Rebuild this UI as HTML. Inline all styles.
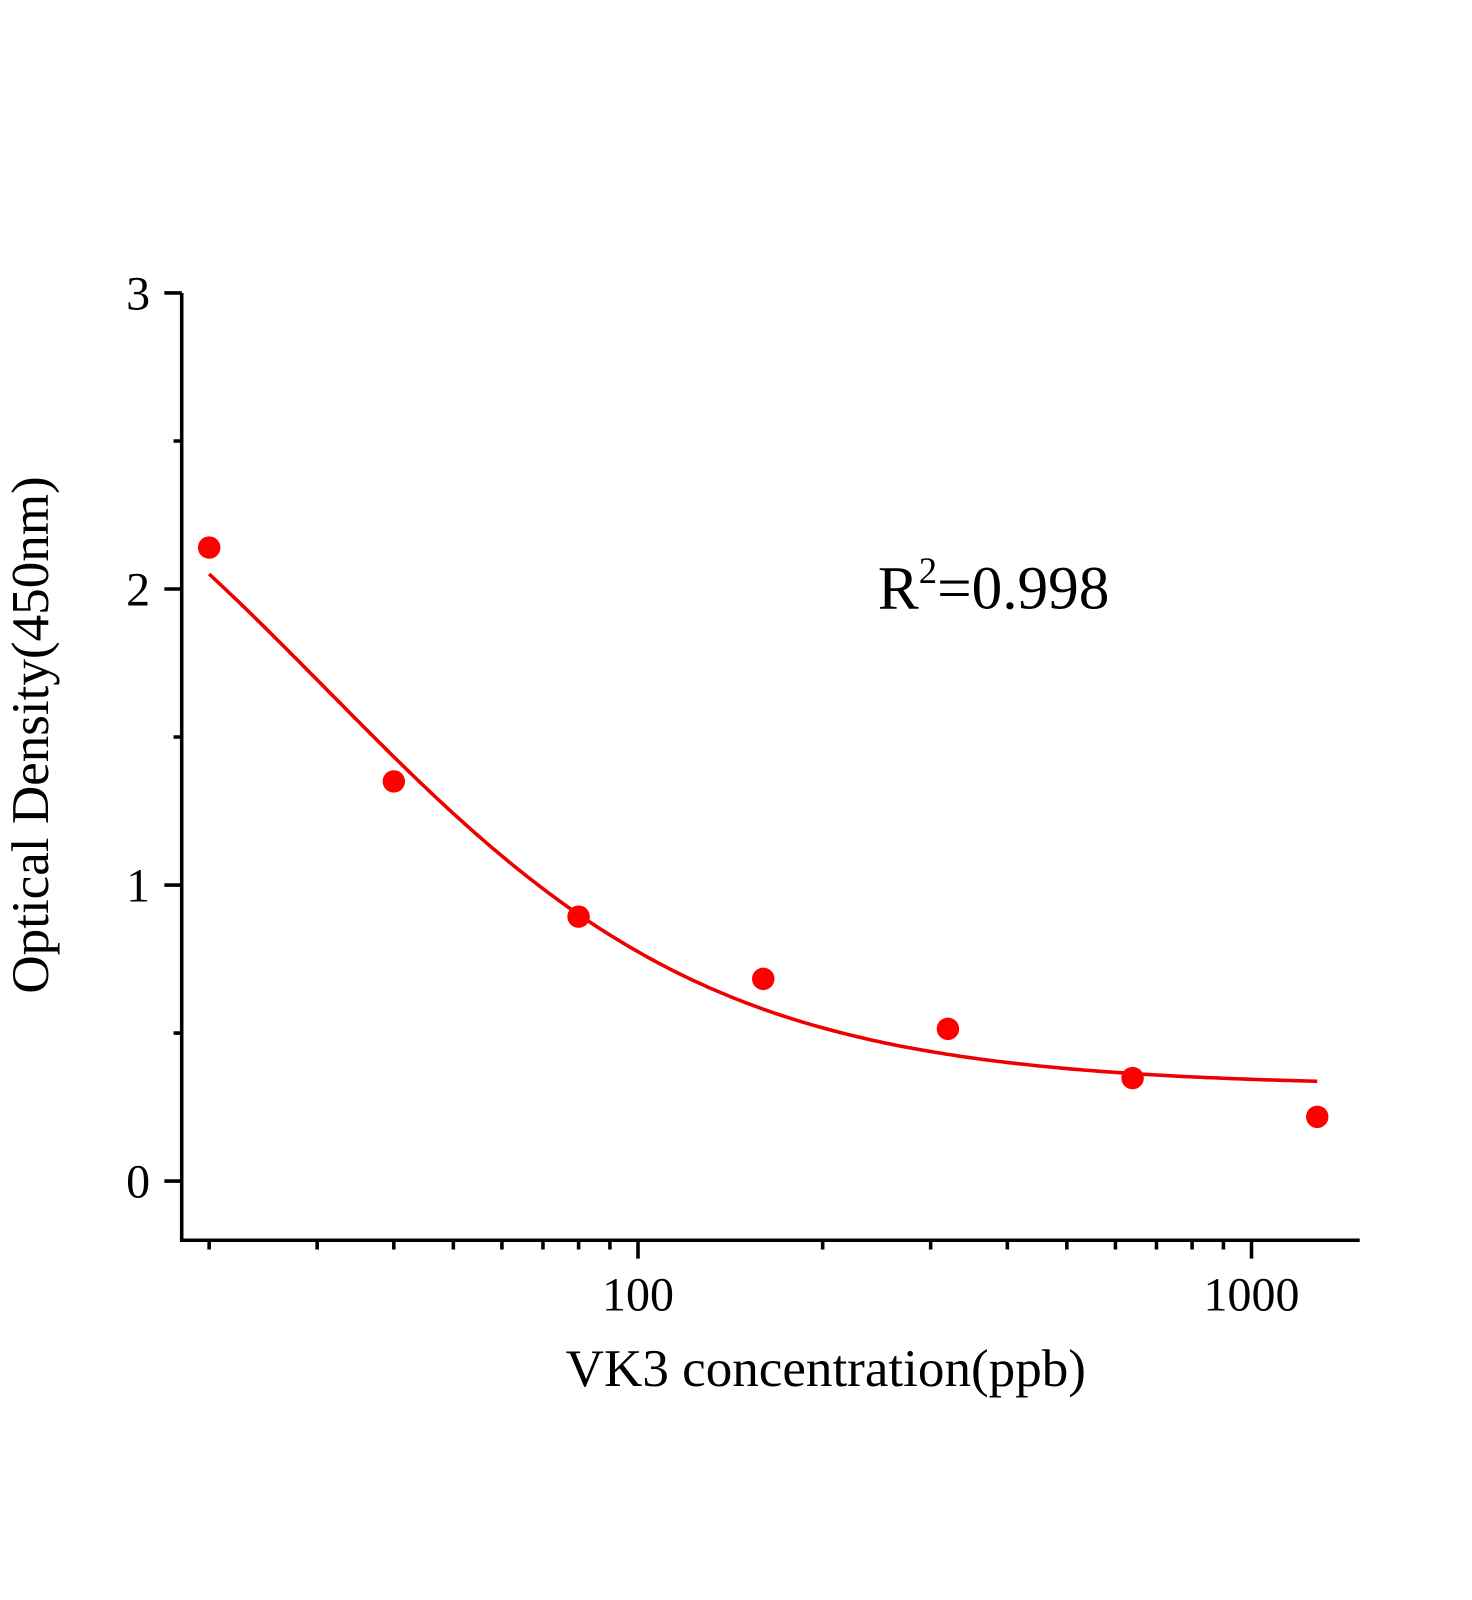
<!DOCTYPE html>
<html><head><meta charset="utf-8"><style>html,body{margin:0;padding:0;background:#fff}svg{display:block}</style></head>
<body>
<svg id="s" width="1472" height="1600" viewBox="0 0 1442 1567.4" xmlns="http://www.w3.org/2000/svg" font-family="'Liberation Serif', serif">
<rect width="1442" height="1568" fill="#fff"/>
<g stroke="#000" stroke-width="3.5" fill="none">
<path d="M178 287 V1215 H1332"/>
<path d="M161 287H178 M161 577H178 M161 867H178 M161 1157H178"/>
<path d="M170 432H178 M170 722H178 M170 1012H178"/>
<path d="M625 1215V1233 M1226 1215V1233"/>
<path id="mt"/>
</g>
<g font-size="47" fill="#000" text-anchor="end">
<text x="147" y="303">3</text>
<text x="147" y="593">2</text>
<text x="147" y="883">1</text>
<text x="147" y="1173">0</text>
</g>
<g font-size="47" fill="#000" text-anchor="middle">
<text x="625" y="1284">100</text>
<text x="1226" y="1284">1000</text>
<text x="809" y="1358" font-size="52">VK3 concentration(ppb)</text>
<text transform="translate(47,720) rotate(-90)" font-size="52">Optical Density(450nm)</text>
</g>
<text x="860" y="596" font-size="60">R<tspan font-size="36" dy="-25">2</tspan><tspan dy="25">=0.998</tspan></text>
<path id="cv" stroke="#e00" stroke-width="3.5" fill="none"/>
<g id="pts" fill="#f00"></g>
</svg>
<script>
var X=function(v){return 625+601*Math.log10(v/100)};
var Y=function(v){return 1157-290*v};
var d="";
[20,30,40,50,60,70,80,90,200,300,400,500,600,700,800,900].forEach(function(v){d+="M"+X(v).toFixed(1)+" 1215V1224 ";});
document.getElementById("mt").setAttribute("d",d);
var c="";
for(var i=0;i<=200;i++){var x=20*Math.pow(64,i/200);var y=0.32+2.68/(1+Math.pow(x/31.1,1.36));c+=(i?"L":"M")+X(x).toFixed(1)+" "+Y(y).toFixed(1);}
document.getElementById("cv").setAttribute("d",c);
var P=[[20,2.14],[40,1.35],[80,0.893],[160,0.683],[320,0.514],[640,0.348],[1280,0.217]];
var g=document.getElementById("pts"),h="";
P.forEach(function(p){h+='<circle cx="'+X(p[0]).toFixed(1)+'" cy="'+Y(p[1]).toFixed(1)+'" r="11"/>';});
g.innerHTML=h;
</script>
</body></html>
